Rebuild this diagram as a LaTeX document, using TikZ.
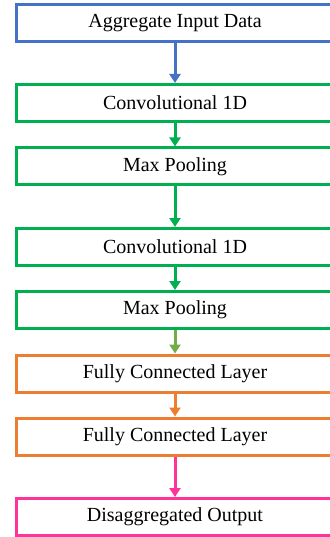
\documentclass[tikz,border=0pt]{standalone}
\usepackage{fontspec}
\setmainfont{Liberation Serif}
\usetikzlibrary{arrows.meta}

\definecolor{inblue}{HTML}{4472C4}
\definecolor{convgreen}{HTML}{00B050}
\definecolor{poolgreen}{HTML}{70AD47}
\definecolor{fcorange}{HTML}{ED7D31}
\definecolor{outpink}{HTML}{FF3399}

\begin{document}
\begin{tikzpicture}[x=1pt, y=-1pt,
                    layer/.style={rectangle,draw,line width=3pt,minimum width=318pt,minimum height=37pt,
                                  inner sep=0pt,font=\fontsize{20}{24}\selectfont},
                    flow/.style={line width=3pt,-{Triangle[width=11pt,length=9pt]}}]
  \useasboundingbox (0,0) rectangle (329,537);

  \node[layer, draw=inblue] (in) at (175, 23) {Aggregate Input Data};
  \node[layer, draw=convgreen] (conv1) at (175, 103) {Convolutional 1D};
  \node[layer, draw=convgreen] (pool1) at (175, 166.5) {Max Pooling};
  \node[layer, draw=convgreen] (conv2) at (175, 247) {Convolutional 1D};
  \node[layer, draw=convgreen] (pool2) at (175, 310) {Max Pooling};
  \node[layer, draw=fcorange] (fc1) at (175, 373.5) {Fully Connected Layer};
  \node[layer, draw=fcorange] (fc2) at (175, 436.5) {Fully Connected Layer};
  \node[layer, draw=outpink] (out) at (175, 517) {Disaggregated Output};

  \path
  (in) edge[flow, inblue] (conv1)
  (conv1) edge[flow, convgreen] (pool1)
  (pool1) edge[flow, convgreen] (conv2)
  (conv2) edge[flow, convgreen] (pool2)
  (pool2) edge[flow, poolgreen] (fc1)
  (fc1) edge[flow, fcorange] (fc2)
  (fc2) edge[flow, outpink] (out);

\end{tikzpicture}
\end{document}
